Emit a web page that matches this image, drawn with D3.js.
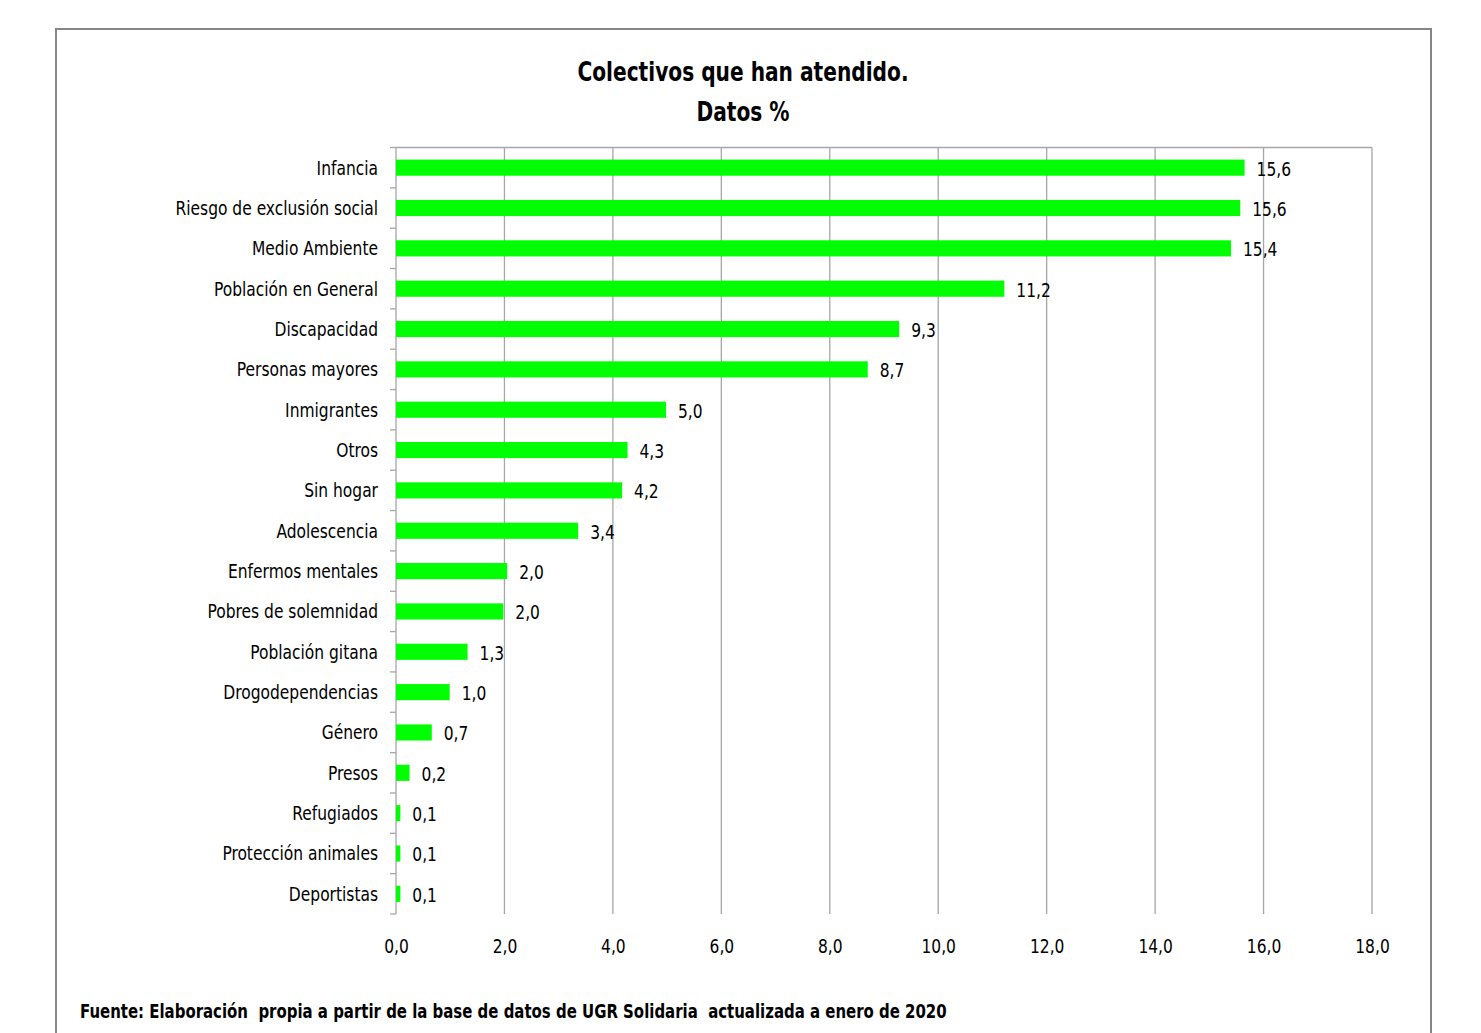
<!DOCTYPE html>
<html>
<head>
<meta charset="utf-8">
<script src="https://cdn.jsdelivr.net/npm/d3@7/dist/d3.min.js"></script>
<style>
  body { margin: 0; background: #fff; }
  text { font-family: "DejaVu Sans Condensed", "DejaVu Sans", sans-serif; font-stretch: condensed; fill: #000; white-space: pre; }
</style>
</head>
<body>
<div class="holder"></div>
<script>
// categories, top to bottom
var categories = ['Infancia', 'Riesgo de exclusión social', 'Medio Ambiente', 'Población en General',
  'Discapacidad', 'Personas mayores', 'Inmigrantes', 'Otros', 'Sin hogar', 'Adolescencia',
  'Enfermos mentales', 'Pobres de solemnidad', 'Población gitana', 'Drogodependencias',
  'Género', 'Presos', 'Refugiados', 'Protección animales', 'Deportistas']
var values = [15.6, 15.6, 15.4, 11.2, 9.3, 8.7, 5.0, 4.3, 4.2, 3.4, 2.0, 2.0, 1.3, 1.0, 0.7, 0.2, 0.1, 0.1, 0.1]
// bar lengths (labels are rounded)
var barLen = [15.65, 15.57, 15.4, 11.22, 9.28, 8.7, 4.98, 4.27, 4.17, 3.36, 2.05, 1.98, 1.32, 0.99, 0.66, 0.25, 0.08, 0.08, 0.08]
var xTicks = [0, 2, 4, 6, 8, 10, 12, 14, 16, 18]

var width = 1481, height = 1033
var plotLeft = 396, plotRight = 1372, plotTop = 147.5, plotBottom = 914

var fmt = function(v) { return v.toFixed(1).replace('.', ',') }

var svg = d3.select('.holder').append('svg')
  .attr('width', width)
  .attr('height', height)

// outer frame
svg.append('rect')
  .attr('x', 56).attr('y', 29)
  .attr('width', 1375).attr('height', 1100)
  .attr('fill', 'none')
  .attr('stroke', '#868686')
  .attr('stroke-width', 2)

var x = d3.scaleLinear().domain([0, 18]).range([plotLeft, plotRight])
var y = d3.scaleBand().domain(categories).range([plotTop, plotBottom]).paddingInner(0.6).paddingOuter(0.3)

// vertical gridlines
svg.append('g')
  .selectAll('line')
  .data(xTicks.slice(1))
  .enter().append('line')
  .attr('x1', function(d) { return x(d) }).attr('x2', function(d) { return x(d) })
  .attr('y1', plotTop).attr('y2', plotBottom)
  .attr('stroke', '#a6a6a6')
  .attr('stroke-width', 1.3)

// top axis line
svg.append('line')
  .attr('x1', plotLeft).attr('x2', plotRight)
  .attr('y1', plotTop).attr('y2', plotTop)
  .attr('stroke', '#a6a6a6').attr('stroke-width', 1.3)

// x tick labels at bottom
var xAxis = d3.axisBottom(x).tickValues(xTicks).tickFormat(fmt).tickSize(0).tickPadding(0)
var xg = svg.append('g').attr('transform', 'translate(0,' + 953 + ')').call(xAxis)
xg.select('.domain').remove()
xg.selectAll('text').attr('dy', 0).style('font-size', '20px').style('font-family', null).attr('class', 'cond')

// left axis with tick marks between categories
var yBoundary = d3.scaleLinear().domain([0, categories.length]).range([plotTop, plotBottom])
svg.append('line')
  .attr('x1', plotLeft).attr('x2', plotLeft)
  .attr('y1', plotTop).attr('y2', plotBottom)
  .attr('stroke', '#a6a6a6').attr('stroke-width', 1.3)
svg.append('g')
  .selectAll('line')
  .data(d3.range(categories.length + 1))
  .enter().append('line')
  .attr('x1', plotLeft - 6).attr('x2', plotLeft)
  .attr('y1', function(d) { return yBoundary(d) }).attr('y2', function(d) { return yBoundary(d) })
  .attr('stroke', '#a6a6a6').attr('stroke-width', 1.3)

// category labels
svg.append('g')
  .selectAll('text')
  .data(categories)
  .enter().append('text')
  .attr('class', 'cond')
  .attr('x', 378)
  .attr('y', function(d) { return y(d) + y.bandwidth() / 2 })
  .attr('dy', '0.35em')
  .attr('text-anchor', 'end')
  .style('font-size', '20px')
  .text(function(d) { return d })

// bars
svg.append('g')
  .selectAll('rect')
  .data(categories)
  .enter().append('rect')
  .attr('x', x(0))
  .attr('y', function(d) { return y(d) })
  .attr('width', function(d, i) { return x(barLen[i]) - x(0) })
  .attr('height', y.bandwidth())
  .attr('fill', '#00ff00')

// value labels
svg.append('g')
  .selectAll('text')
  .data(categories)
  .enter().append('text')
  .attr('class', 'cond')
  .attr('x', function(d, i) { return x(barLen[i]) + 12 })
  .attr('y', function(d) { return y(d) + y.bandwidth() / 2 + 1 })
  .attr('dy', '0.35em')
  .style('font-size', '20px')
  .text(function(d, i) { return fmt(values[i]) })

// title
svg.append('text')
  .attr('class', 'cond').attr('data-squeeze', 0.83)
  .attr('x', 743).attr('y', 81)
  .attr('text-anchor', 'middle')
  .style('font-size', '27px').style('font-weight', 'bold')
  .text('Colectivos que han atendido.')
svg.append('text')
  .attr('class', 'cond').attr('data-squeeze', 0.83)
  .attr('x', 743).attr('y', 121)
  .attr('text-anchor', 'middle')
  .style('font-size', '27px').style('font-weight', 'bold')
  .text('Datos %')

// source
svg.append('text')
  .attr('class', 'cond').attr('data-squeeze', 0.852)
  .attr('x', 80).attr('y', 1018)
  .style('font-size', '19.5px').style('font-weight', 'bold')
  .text('Fuente: Elaboración  propia a partir de la base de datos de UGR Solidaria  actualizada a enero de 2020')

// squeeze the text to the narrow face of the original
svg.selectAll('text.cond').each(function() {
  var k = +this.getAttribute('data-squeeze') || 0.86
  var len = this.getComputedTextLength()
  d3.select(this).attr('textLength', len * k).attr('lengthAdjust', 'spacingAndGlyphs')
})
</script>
</body>
</html>
